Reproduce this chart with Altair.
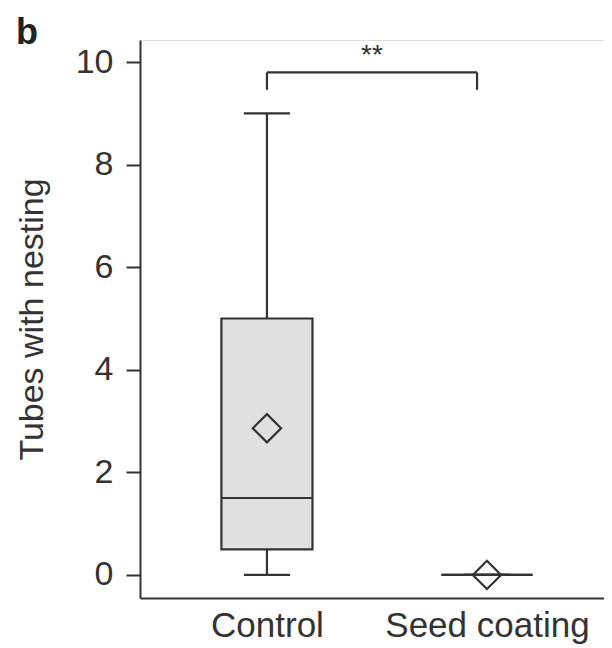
import altair as alt
import pandas as pd

groups = ["Control", "Seed coating"]
positions = [0, 1]
mins = [0, 0]
q1s = [0.5, 0]
medians = [1.5, 0]
q3s = [5, 0]
maxs = [9, 0]
means = [2.86, 0]
y_ticks = [0, 2, 4, 6, 8, 10]

INK = "#333333"
FILL = "#e0e0e0"
BOX_HALF = 0.207
CAP_HALF = 0.105
FONT = "Liberation Sans"

df = pd.DataFrame({
    "group": groups, "pos": positions, "lo": mins, "q1": q1s,
    "median": medians, "q3": q3s, "hi": maxs, "mean": means,
})

xs = alt.Scale(domain=[-0.577, 1.532], nice=False, zero=False)
ys = alt.Scale(domain=[-0.45, 10.43], nice=False, zero=False)

xax = alt.Axis(values=positions, labelExpr="datum.value == 0 ? 'Control' : 'Seed coating'",
               ticks=False, grid=False, labelFontSize=35, labelPadding=10, labelLimit=0,
               labelColor=INK, domainColor=INK, domainWidth=2, title=None,
               labelFont=FONT, labelFlush=False, labelOverlap=False)
yax = alt.Axis(values=y_ticks, grid=False, tickSize=14, tickWidth=2, tickColor=INK,
               labelFontSize=34, labelPadding=13, labelColor=INK, domainColor=INK,
               domainWidth=2, title="Tubes with nesting", titleFontSize=34,
               titleFontWeight="normal", titleColor=INK, titlePadding=26,
               labelFont=FONT, titleFont=FONT)

base = alt.Chart(df).transform_calculate(
    box_lo=f"datum.pos - {BOX_HALF}", box_hi=f"datum.pos + {BOX_HALF}",
    cap_lo=f"datum.pos - {CAP_HALF}", cap_hi=f"datum.pos + {CAP_HALF}",
)

SW = 2.2
whisker = base.mark_rule(color=INK, strokeWidth=SW).encode(
    x=alt.X("pos:Q", scale=xs, axis=xax),
    y=alt.Y("lo:Q", scale=ys, axis=yax),
    y2="hi:Q",
)
cap_lo = base.mark_rule(color=INK, strokeWidth=SW).encode(
    x=alt.X("cap_lo:Q", scale=xs), x2="cap_hi:Q", y=alt.Y("lo:Q", scale=ys))
cap_hi = base.mark_rule(color=INK, strokeWidth=SW).encode(
    x=alt.X("cap_lo:Q", scale=xs), x2="cap_hi:Q", y=alt.Y("hi:Q", scale=ys))
box = base.mark_rect(fill=FILL, stroke=INK, strokeWidth=SW).encode(
    x=alt.X("box_lo:Q", scale=xs), x2="box_hi:Q",
    y=alt.Y("q1:Q", scale=ys), y2="q3:Q")
med = base.mark_rule(color=INK, strokeWidth=SW).encode(
    x=alt.X("box_lo:Q", scale=xs), x2="box_hi:Q", y=alt.Y("median:Q", scale=ys))
mean_pt = base.mark_point(shape="diamond", size=800, filled=False, color=INK,
                          strokeWidth=SW, opacity=1).encode(
    x=alt.X("pos:Q", scale=xs), y=alt.Y("mean:Q", scale=ys))

# significance bracket
br = pd.DataFrame({"x1": [0], "x2": [0.955], "y": [9.8], "yb": [9.46]})
br_h = alt.Chart(br).mark_rule(color=INK, strokeWidth=SW).encode(
    x=alt.X("x1:Q", scale=xs), x2="x2:Q", y=alt.Y("y:Q", scale=ys))
br_l = alt.Chart(br).mark_rule(color=INK, strokeWidth=SW).encode(
    x=alt.X("x1:Q", scale=xs), y=alt.Y("yb:Q", scale=ys), y2="y:Q")
br_r = alt.Chart(br).mark_rule(color=INK, strokeWidth=SW).encode(
    x=alt.X("x2:Q", scale=xs), y=alt.Y("yb:Q", scale=ys), y2="y:Q")
stars = alt.Chart(pd.DataFrame({"x": [0.477], "y": [10.12], "t": ["**"]})).mark_text(
    fontSize=28, color=INK, font=FONT).encode(
    x=alt.X("x:Q", scale=xs), y=alt.Y("y:Q", scale=ys), text="t:N")

letter = alt.Chart(pd.DataFrame({"t": ["b"]})).mark_text(
    fontSize=36, fontWeight="bold", color="#222222", align="left", baseline="alphabetic",
    font=FONT).encode(
    x=alt.value(-124), y=alt.value(4), text="t:N")

chart = alt.layer(
    whisker, cap_lo, cap_hi, box, med, mean_pt, br_h, br_l, br_r, stars, letter
).properties(
    width=464, height=558,
    autosize=alt.AutoSizeParams(type="none"),
    padding={"left": 132, "top": 32, "right": 0, "bottom": 50},
).configure_view(stroke=None).configure(background="white")

chart.save("out.html", embed_options={"renderer": "svg", "actions": False})
